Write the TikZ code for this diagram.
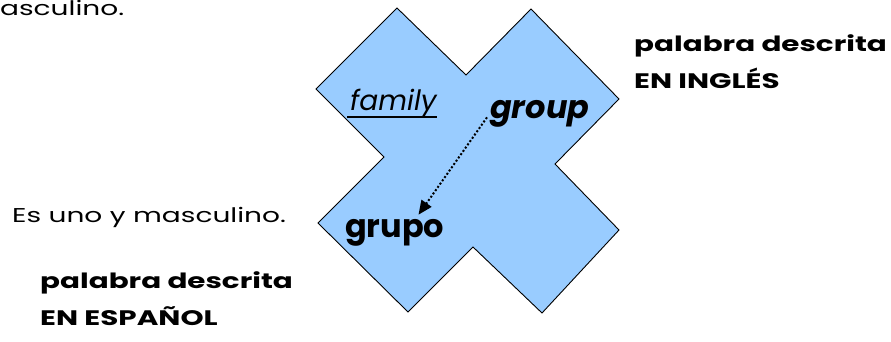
\documentclass[tikz,border=0pt]{standalone}
\usepackage{fontspec}
\setmainfont{Poppins}
\newfontfamily\widefont{Poppins}[FakeStretch=1.4]
\usetikzlibrary{arrows.meta}
\definecolor{crossblue}{HTML}{99CCFF}
\tikzset{
  txt/.style={inner sep=0pt, anchor=base west},
  plain/.style={txt, font=\widefont\fontsize{20}{37}\selectfont},
  label/.style={txt, font=\widefont\fontsize{21}{37}\selectfont\bfseries, align=left},
  word/.style={txt, font=\fontsize{32}{36}\selectfont\bfseries},
  link/.style={line width=2pt, dash pattern=on 2pt off 2pt, -{Triangle[length=14pt,width=12pt]}}
}
\begin{document}
\begin{tikzpicture}[x=1pt,y=-1pt]
\useasboundingbox (0,0) rectangle (891,341);
% the X-shaped panel
\filldraw[fill=crossblue, draw=black, line width=0.9pt]
  (397,8) -- (466,75) -- (531,9) -- (619,99) -- (555,164) -- (619,230)
  -- (542,313) -- (473,247) -- (408,312) -- (318,223) -- (384,157)
  -- (316,89) -- cycle;
% end of a sentence at the top edge
\node[plain] (top) at (0,15) {asculino.};
\node[plain] (es) at (12,222) {Es uno y masculino.};
% two-line labels: the anchor sits on the last line's baseline
\node[label] (esp) at (40,325) {palabra descrita\\EN ESPAÑOL};
\node[label] (ing) at (634,88) {palabra descrita\\EN INGLÉS};
% words inside the panel
\node[txt, font=\fontsize{28}{32}\selectfont\itshape] (family) at (350,110) {family};
\draw[line width=2.6pt] (family.base west) ++(-3,7) -- ++(90,0);
\node[word, font=\fontsize{32}{36}\selectfont\bfseries\itshape] (group) at (490,118) {group};
\node[word] (grupo) at (345,237) {grupo};
\draw[link] ([xshift=-3pt,yshift=-4pt]group.west) -- ([xshift=-26pt,yshift=4pt]grupo.north east);
\end{tikzpicture}
\end{document}
